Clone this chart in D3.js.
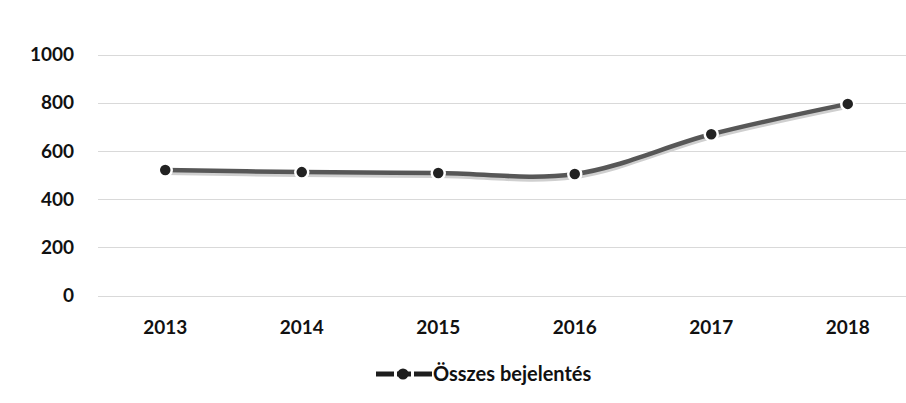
<!DOCTYPE html>
<html>
<head>
<meta charset="utf-8">
<style>
  body { margin: 0; background: #fff; }
  text { font-family: Lato, "Open Sans", sans-serif; font-weight: 700; fill: #111; }
</style>
</head>
<body>
<svg width="906" height="403"></svg>
<script src="https://cdn.jsdelivr.net/npm/d3@7"></script>
<script>
var years = ["2013", "2014", "2015", "2016", "2017", "2018"];
var reports = [521, 512, 508, 504, 669, 795];
var yTicks = [0, 200, 400, 600, 800, 1000];
var seriesName = "Összes bejelentés";

var svg = d3.select("svg");

var x = d3.scaleBand().domain(years).range([97, 916]);
var y = d3.scaleLinear().domain([0, 1000]).range([295.5, 54.5]);

// gridlines
svg.append("g").selectAll("line")
  .data(yTicks)
  .enter().append("line")
    .attr("x1", 98).attr("x2", 906)
    .attr("y1", function(d) { return Math.round(y(d)) + 0.5; })
    .attr("y2", function(d) { return Math.round(y(d)) + 0.5; })
    .attr("stroke", "#d9d9d9")
    .attr("stroke-width", 1);

// y tick labels
svg.append("g").selectAll("text")
  .data(yTicks)
  .enter().append("text")
    .attr("x", 74)
    .attr("y", function(d) { return y(d); })
    .attr("dy", "0.35em")
    .attr("text-anchor", "end")
    .attr("font-size", 19)
    .text(function(d) { return d; });

// x labels
svg.append("g").selectAll("text")
  .data(years)
  .enter().append("text")
    .attr("x", function(d) { return x(d) + x.bandwidth() / 2; })
    .attr("y", 327)
    .attr("dy", "0.35em")
    .attr("text-anchor", "middle")
    .attr("font-size", 19)
    .text(function(d) { return d; });

var pts = years.map(function(d, i) { return [x(d) + x.bandwidth() / 2, y(reports[i])]; });

var line = d3.line().curve(d3.curveCatmullRom.alpha(0.5));

// soft shadow under the line
svg.append("path")
  .attr("d", line(pts))
  .attr("transform", "translate(0,2.5)")
  .attr("fill", "none")
  .attr("stroke", "#cfcfcf")
  .attr("stroke-width", 5);

svg.append("path")
  .attr("d", line(pts))
  .attr("fill", "none")
  .attr("stroke", "#575757")
  .attr("stroke-width", 4.5);

svg.append("g").selectAll("circle")
  .data(pts)
  .enter().append("circle")
    .attr("cx", function(d) { return d[0]; })
    .attr("cy", function(d) { return d[1]; })
    .attr("r", 6.5)
    .attr("fill", "#222")
    .attr("stroke", "#fff")
    .attr("stroke-width", 2.5);

// legend
var lg = svg.append("g").attr("transform", "translate(376,374)");
lg.append("line")
  .attr("x1", 0).attr("x2", 56).attr("y1", 0).attr("y2", 0)
  .attr("stroke", "#1e1e1e").attr("stroke-width", 5)
  .attr("stroke-dasharray", "18,3,14,3,18");
lg.append("circle").attr("cx", 27).attr("cy", 0).attr("r", 5.5).attr("fill", "#1e1e1e");
lg.append("text")
  .attr("x", 57)
  .attr("y", 0)
  .attr("dy", "0.35em")
  .attr("font-size", 20)
  .text(seriesName);
</script>
</body>
</html>
